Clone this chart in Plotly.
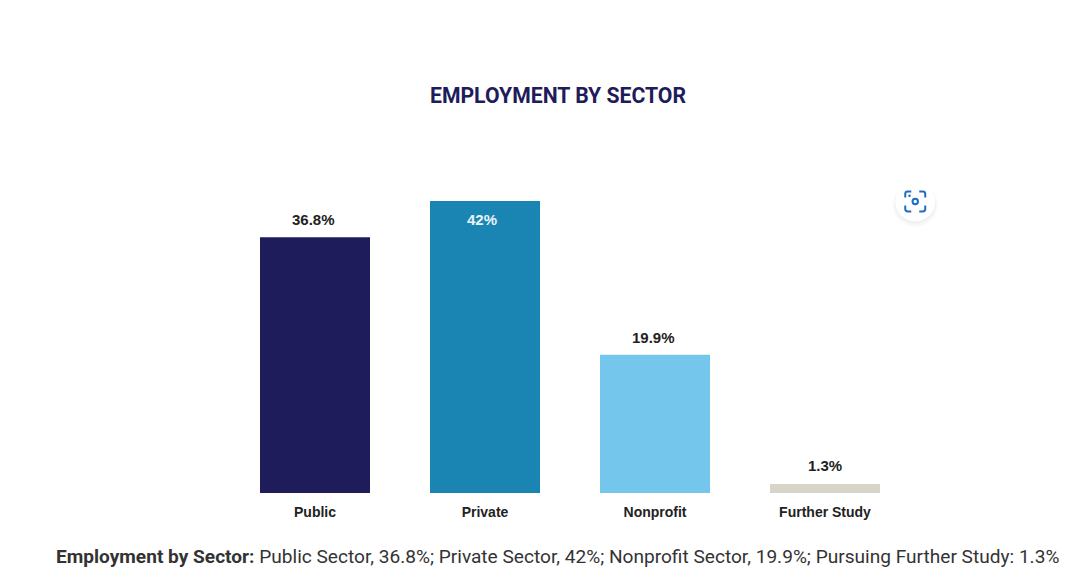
import plotly.graph_objects as go

categories = ["Public", "Private", "Nonprofit", "Further Study"]
values = [36.8, 42, 19.9, 1.3]
value_labels = ["36.8%", "42%", "19.9%", "1.3%"]
bar_colors = ["#1F1C5C", "#1A85B3", "#75C6EC", "#D6D5C8"]
label_colors = ["#222222", "#EAF4F8", "#222222", "#222222"]
label_yshifts = [18, -18, 17, 18]
label_xshifts = [-2, -3.5, -2, 0]

title_text = "EMPLOYMENT BY SECTOR"
caption_text = ("<b>Employment by Sector:</b> Public Sector, 36.8%; Private Sector, 42%; "
                "Nonprofit Sector, 19.9%; Pursuing Further Study: 1.3%")

W, H = 1080, 584
L, R, T, B = 230.25, 910.25, 200.5, 493.5


def px(x):
    return (x - L) / (R - L)


def py(y):
    return (B - y) / (B - T)


fig = go.Figure(go.Bar(
    x=categories, y=values,
    marker=dict(color=bar_colors, line=dict(width=0)),
    width=110 / 170,
    hoverinfo="skip",
))

annotations = [
    dict(x=c, y=v, xref="x", yref="y", text=f"<b>{t}</b>", showarrow=False,
         xanchor="center", yanchor="middle", yshift=s, xshift=dx,
         font=dict(family="Liberation Sans", size=15, color=col))
    for c, v, t, s, dx, col in zip(categories, values, value_labels, label_yshifts,
                                   label_xshifts, label_colors)
]
annotations += [
    dict(x=px(558), y=py(95), xref="paper", yref="paper", text=f"<b>{title_text}</b>",
         xanchor="center", yanchor="middle", showarrow=False,
         font=dict(family="Roboto", size=21.2, color="#1F1C5C")),
    dict(x=px(558), y=py(557), xref="paper", yref="paper", text=caption_text,
         xanchor="center", yanchor="middle", showarrow=False,
         font=dict(family="Roboto", size=19.1, color="#333333")),
]

shapes = []
cx, cy = 915.5, 201
for r, off, op in [(23, 3, 0.012), (22, 3, 0.015), (21, 2, 0.02), (20, 1, 0.025)]:
    shapes.append(dict(type="circle", xref="paper", yref="paper", layer="above",
                       x0=px(cx - r), x1=px(cx + r), y0=py(cy + off + r), y1=py(cy + off - r),
                       fillcolor=f"rgba(0,0,0,{op})", line=dict(width=0)))
shapes.append(dict(type="circle", xref="paper", yref="paper", layer="above",
                   x0=px(cx - 20), x1=px(cx + 20), y0=py(cy + 20), y1=py(cy - 20),
                   fillcolor="white", line=dict(width=0)))
blue = "#1A6FC4"


def P(x, y):
    return f"{px(cx + x):.5f},{py(cy + y):.5f}"


for sx, sy in [(-1, -1), (1, -1), (1, 1), (-1, 1)]:
    path = (f"M{P(sx * 10, sy * 4)} L{P(sx * 10, sy * 7.5)} "
            f"Q{P(sx * 10, sy * 10)} {P(sx * 7.5, sy * 10)} L{P(sx * 4, sy * 10)}")
    shapes.append(dict(type="path", xref="paper", yref="paper", layer="above", path=path,
                       line=dict(color=blue, width=2)))
shapes.append(dict(type="circle", xref="paper", yref="paper", layer="above",
                   x0=px(cx - 2.7), x1=px(cx + 2.7), y0=py(cy + 2.7), y1=py(cy - 2.7),
                   fillcolor="white", line=dict(color=blue, width=2)))
shapes.append(dict(type="circle", xref="paper", yref="paper", layer="above",
                   x0=px(cx - 7), x1=px(cx - 4.5), y0=py(cy - 4.5), y1=py(cy - 7),
                   fillcolor=blue, line=dict(width=0)))

fig.update_layout(
    width=W, height=H, autosize=False,
    margin=dict(l=L, r=W - R, t=T, b=H - B, pad=0),
    paper_bgcolor="white", plot_bgcolor="white",
    showlegend=False, annotations=annotations, shapes=shapes,
    xaxis=dict(type="category", range=[-0.5, 3.5], showgrid=False, zeroline=False, showline=False,
               ticks="", ticklabelstandoff=9,
               tickfont=dict(family="Liberation Sans", size=14, color="#222222"),
               tickmode="array", tickvals=categories,
               ticktext=[f"<b>{c}</b>" for c in categories]),
    yaxis=dict(range=[0, 42], visible=False, fixedrange=True),
)
fig.write_html("out.html", config={"displayModeBar": False},
               post_script="document.body.style.margin='0';document.body.style.overflow='hidden';window.dispatchEvent(new Event('resize'));")
